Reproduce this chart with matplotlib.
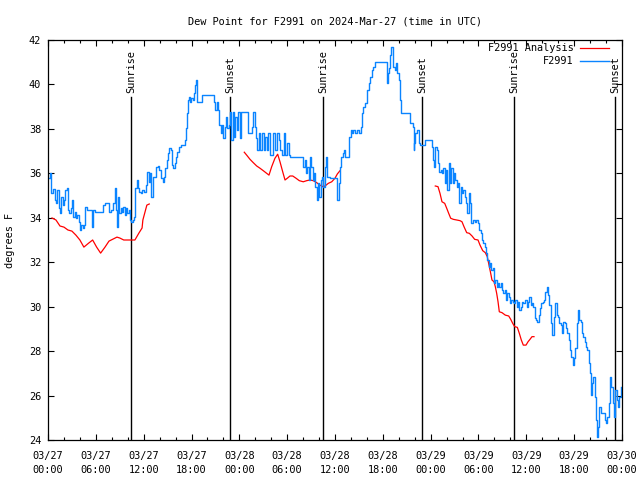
import numpy as np
import matplotlib
matplotlib.use('Agg')
import matplotlib.pyplot as plt
from matplotlib.ticker import FixedLocator, MultipleLocator

# dew point observations, hours since 03/27 00:00 UTC
obs_hours = [0.00, 0.25, 0.38, 0.63, 0.88, 1.00, 1.13, 1.38, 1.51, 1.63, 1.88, 2.01, 2.13, 2.38, 2.51, 2.63,
             2.88, 3.01, 3.14, 3.39, 3.51, 3.64, 3.89, 4.01, 4.14, 4.39, 4.52, 4.64, 4.89, 5.39, 5.52, 5.64,
             5.90, 6.65, 6.90, 7.15, 7.40, 7.65, 7.90, 8.15, 8.40, 8.53, 8.66, 8.78, 8.91, 9.16, 9.28, 9.41,
             9.66, 9.78, 9.91, 10.16, 10.29, 10.41, 10.66, 10.79, 10.91, 11.16, 11.29, 11.42, 11.67, 11.79,
             12.04, 12.29, 12.42, 12.67, 12.79, 12.92, 13.17, 13.30, 13.55, 13.80, 13.92, 14.18, 14.43, 14.55,
             14.68, 14.93, 15.00, 15.18, 15.43, 15.55, 15.68, 15.93, 16.06, 16.18, 16.43, 16.68, 16.93, 17.19,
             17.31, 17.44, 17.56, 17.69, 17.81, 17.94, 18.19, 18.32, 18.44, 18.57, 18.69, 18.75, 19.07, 19.32,
             20.70, 20.82, 20.95, 21.20, 21.32, 21.45, 21.70, 21.83, 21.95, 22.20, 22.33, 22.45, 22.71, 22.83,
             22.96, 23.21, 23.33, 23.46, 23.71, 23.83, 24.08, 24.21, 24.84, 25.09, 25.34, 25.59, 25.72, 25.97,
             26.09, 26.22, 26.47, 26.59, 26.84, 27.10, 27.22, 27.47, 27.60, 27.85, 28.10, 28.22, 28.48, 28.73,
             28.98, 29.10, 29.35, 29.61, 29.73, 29.98, 30.23, 30.36, 31.86, 31.99, 32.24, 32.36, 32.49, 32.74,
             32.87, 32.99, 33.24, 33.37, 33.49, 33.74, 33.87, 34.00, 34.25, 34.37, 34.50, 34.75, 34.87, 35.00,
             35.38, 36.13, 36.25, 36.50, 36.63, 36.75, 37.00, 37.13, 37.26, 37.63, 37.76, 38.01, 38.13, 38.26,
             38.51, 38.76, 39.01, 39.26, 39.39, 39.51, 39.77, 40.02, 40.27, 40.39, 40.64, 40.77, 41.02, 42.27,
             42.52, 42.60, 42.77, 42.90, 43.03, 43.28, 43.53, 43.65, 43.78, 44.03, 44.16, 44.28, 45.28, 45.41,
             45.79, 45.85, 45.91, 46.04, 46.29, 46.54, 46.66, 47.04, 47.29, 47.92, 48.17, 48.30, 48.42, 48.55,
             48.80, 48.92, 49.05, 49.30, 49.42, 49.55, 49.80, 49.93, 50.05, 50.30, 50.43, 50.55, 50.80, 50.93,
             51.05, 51.31, 51.43, 51.56, 51.81, 51.93, 52.06, 52.31, 52.43, 52.56, 52.81, 52.94, 53.06, 53.31,
             53.56, 53.69, 53.94, 54.07, 54.32, 54.44, 54.57, 54.82, 54.94, 55.07, 55.32, 55.45, 55.57, 55.82,
             55.95, 56.07, 56.32, 56.45, 56.57, 56.83, 56.95, 57.08, 57.33, 57.45, 57.58, 57.83, 57.95, 58.08,
             58.33, 58.46, 58.58, 58.83, 58.96, 59.08, 59.33, 59.46, 59.58, 59.84, 60.09, 60.21, 60.34, 60.59,
             60.71, 60.84, 61.09, 61.21, 61.34, 61.59, 61.72, 61.84, 62.09, 62.22, 62.34, 62.59, 62.72, 62.85,
             63.10, 63.22, 63.35, 63.47, 63.60, 63.85, 63.98, 64.10, 64.35, 64.48, 64.60, 64.85, 64.98, 65.11,
             65.36, 65.48, 65.61, 65.86, 65.98, 66.11, 66.36, 66.48, 66.61, 66.86, 66.99, 67.11, 67.36, 67.49,
             67.61, 67.86, 67.99, 68.11, 68.24, 68.37, 68.62, 68.74, 68.87, 68.99, 69.12, 69.37, 69.62, 69.87,
             70.00, 70.12, 70.37, 70.50, 70.62, 70.87, 71.00, 71.12, 71.37, 71.50, 71.62, 71.88]
obs_dewpt = [35.79, 36.02, 35.12, 35.30, 34.80, 34.67, 35.25, 34.44, 34.22, 34.94, 34.58, 34.80, 35.25, 35.34, 34.35, 34.22,
             34.44, 34.80, 34.04, 34.26, 33.99, 34.13, 33.81, 33.45, 33.68, 33.54, 33.68, 34.49, 34.35, 34.35, 33.59, 34.35,
             34.26, 34.26, 34.58, 34.67, 34.67, 34.26, 34.35, 34.67, 35.34, 34.35, 33.59, 34.94, 34.22, 34.44, 34.26, 34.49,
             34.13, 34.44, 34.22, 34.35, 33.90, 33.81, 33.90, 34.04, 35.34, 35.70, 35.34, 35.16, 35.12, 35.25,
             35.16, 35.48, 36.06, 35.61, 36.02, 34.94, 35.84, 35.84, 36.29, 36.33, 36.15, 35.79, 35.61, 35.84,
             36.24, 36.60, 36.92, 37.14, 37.05, 36.38, 36.24, 36.47, 36.74, 36.96, 37.19, 37.28, 37.28, 37.50,
             38.04, 38.72, 39.30, 39.44, 39.21, 39.39, 39.30, 39.62, 39.98, 40.20, 39.89, 39.21, 39.21, 39.53,
             39.53, 39.21, 38.85, 39.21, 38.85, 38.18, 37.82, 38.18, 37.59, 38.09, 38.54, 38.04, 38.18, 38.76,
             37.50, 38.76, 37.64, 38.54, 37.95, 38.76, 37.59, 38.76, 38.76, 37.82, 37.82, 38.09, 38.76, 38.09,
             37.59, 37.05, 37.82, 37.05, 37.82, 37.05, 37.64, 37.05, 37.82, 36.83, 36.83, 37.82, 37.05, 37.82,
             37.50, 37.05, 36.83, 37.82, 36.83, 37.37, 36.83, 36.74, 36.74, 36.29, 36.60, 36.02, 36.29, 35.70,
             36.74, 36.29, 35.70, 36.02, 35.39, 34.80, 35.57, 34.94, 35.70, 35.84, 35.39, 36.29, 36.74, 35.84,
             35.79, 35.79, 34.80, 35.57, 36.29, 36.74, 36.92, 37.05, 36.74, 36.74, 37.64, 37.95, 37.82, 37.95,
             37.82, 37.95, 37.82, 38.09, 38.72, 38.99, 39.17, 39.75, 40.07, 40.34, 40.65, 40.79, 41.01, 41.01,
             40.07, 40.52, 40.74, 41.33, 41.69, 40.79, 40.65, 40.97, 40.52, 40.20, 39.30, 38.72, 38.72, 38.27,
             38.09, 37.05, 37.37, 37.82, 37.95, 37.37, 37.28, 37.28, 37.50, 37.50, 37.19, 36.60, 36.29, 37.19,
             37.05, 36.47, 36.06, 36.15, 36.02, 36.24, 35.57, 36.15, 35.25, 36.47, 35.57, 36.24, 35.57, 36.02,
             35.70, 35.39, 35.57, 34.67, 35.39, 35.12, 35.25, 34.94, 34.67, 34.22, 35.12, 34.67, 33.77, 33.90,
             33.81, 33.90, 33.77, 33.45, 33.32, 33.00, 32.87, 32.69, 32.42, 32.10, 31.79, 31.97, 31.65, 31.74,
             31.07, 31.20, 30.89, 31.07, 30.89, 31.07, 30.75, 30.62, 30.75, 30.30, 30.62, 30.44, 30.17, 30.30,
             30.21, 30.17, 30.30, 29.99, 30.21, 29.85, 29.99, 30.21, 30.17, 30.30, 29.99, 30.21, 30.44, 30.08,
             30.17, 29.99, 29.49, 29.40, 29.31, 29.63, 29.94, 30.17, 30.21, 30.30, 30.66, 30.89, 30.53, 30.08,
             29.27, 28.73, 28.73, 29.54, 30.17, 29.63, 29.54, 29.27, 29.18, 28.82, 29.31, 29.27, 29.04, 28.82,
             28.50, 28.05, 27.74, 27.38, 27.69, 28.14, 29.27, 29.85, 29.40, 29.31, 28.82, 28.64, 28.41, 28.19,
             28.05, 27.47, 27.02, 26.03, 26.57, 26.84, 25.94, 24.90, 24.14, 24.59, 25.49, 25.22, 25.22, 24.90,
             24.77, 25.04, 25.67, 26.84, 26.39, 25.67, 25.04, 26.25, 25.80, 25.49, 25.92, 26.39]

# model analysis, three runs
ana1_hours = [0.5, 1.0, 1.5, 2.0, 2.5, 3.0, 3.5, 4.0, 4.5, 5.1, 5.6, 6.1, 6.6, 7.15, 7.65, 8.15, 8.65,
              9.0, 9.5, 10.0, 10.9, 11.4, 11.8, 11.9, 12.4, 12.7]
ana1_dewpt = [33.99, 33.9, 33.63, 33.58, 33.45, 33.4, 33.22, 33.0, 32.68, 32.86, 33.0, 32.68, 32.41, 32.68,
              32.95, 33.04, 33.13, 33.09, 33.0, 33.0, 33.0, 33.31, 33.54, 33.9, 34.57, 34.62]
ana2_hours = [24.62, 24.92, 25.34, 25.75, 26.18, 26.59, 27.0, 27.43, 27.72, 28.06, 28.47, 28.81, 29.1,
              29.44, 29.73, 30.02, 30.35, 30.7, 31.11, 31.52, 32.02, 32.45, 32.86, 33.28, 33.7, 34.12,
              34.46, 34.75, 35.16, 35.59, 36.0, 36.29, 36.63]
ana2_dewpt = [36.95, 36.82, 36.63, 36.48, 36.33, 36.23, 36.12, 36.0, 35.92, 36.3, 36.68, 36.86, 36.52,
              36.07, 35.7, 35.78, 35.88, 35.88, 35.78, 35.67, 35.62, 35.67, 35.7, 35.67, 35.58, 35.47,
              35.4, 35.43, 35.55, 35.62, 35.78, 35.97, 36.12]
ana3_hours = [48.58, 48.92, 49.17, 49.42, 49.76, 50.01, 50.26, 50.51, 50.84, 51.27, 51.68, 51.93, 52.18,
              52.52, 52.85, 53.19, 53.52, 53.94, 54.19, 54.53, 54.85, 55.1, 55.36, 55.53, 55.69, 55.95,
              56.11, 56.28, 56.45, 56.61, 56.95, 57.36, 57.79, 58.04, 58.29, 58.54, 58.87, 59.12, 59.37,
              59.62, 59.96, 60.21, 60.46, 60.71, 60.96]
ana3_dewpt = [35.43, 35.4, 35.1, 34.72, 34.65, 34.43, 34.2, 33.98, 33.93, 33.9, 33.87, 33.82, 33.6,
              33.33, 33.3, 33.18, 33.03, 33.0, 32.77, 32.52, 32.43, 32.25, 31.8, 31.5, 31.2, 31.12,
              30.9, 30.6, 30.22, 29.77, 29.73, 29.62, 29.58, 29.43, 29.25, 29.1, 29.07, 28.8, 28.5,
              28.27, 28.27, 28.42, 28.53, 28.65, 28.65]

# sunrise / sunset times (hours)
sun_hours = [10.45, 22.87, 34.54, 46.96, 58.5, 71.13]
sun_labels = ['Sunrise', 'Sunset', 'Sunrise', 'Sunset', 'Sunrise', 'Sunset']

tick_hours = [0, 6, 12, 18, 24, 30, 36, 42, 48, 54, 60, 66, 72]
tick_labels = ['03/27\n00:00', '03/27\n06:00', '03/27\n12:00', '03/27\n18:00',
               '03/28\n00:00', '03/28\n06:00', '03/28\n12:00', '03/28\n18:00',
               '03/29\n00:00', '03/29\n06:00', '03/29\n12:00', '03/29\n18:00',
               '03/30\n00:00']

plt.rcParams['font.family'] = ['DejaVu Sans Mono']
plt.rcParams['font.size'] = 7.2

fig = plt.figure(figsize=(6.4, 4.8), dpi=100)
ax = fig.add_axes([48/640, 40/480, 574/640, 400/480])

# sun lines first so the data sits on top
for h, lab in zip(sun_hours, sun_labels):
    ax.axvline(h, ymin=0, ymax=0.8575, color='black', lw=1.0)
    ax.text(h, 0.868, lab, transform=ax.get_xaxis_transform(), rotation=90,
            ha='center', va='bottom', fontsize=7.4)

ax.plot(ana1_hours, ana1_dewpt, color='red', lw=0.9, label='F2991 Analysis')
ax.plot(ana2_hours, ana2_dewpt, color='red', lw=0.9)
ax.plot(ana3_hours, ana3_dewpt, color='red', lw=0.9)
ax.plot(obs_hours, obs_dewpt, color='#0a84ff', lw=1.0, drawstyle='steps-post', label='F2991')

ax.set_xlim(0, 72)
ax.set_ylim(24, 42)
ax.xaxis.set_major_locator(FixedLocator(tick_hours))
ax.set_xticklabels(tick_labels, linespacing=1.45)
ax.xaxis.set_minor_locator(MultipleLocator(2))
ax.yaxis.set_major_locator(MultipleLocator(2))
ax.tick_params(which='both', direction='in', top=True, right=True, labelsize=7.4)
ax.tick_params(which='major', length=4.5, width=0.8)
ax.tick_params(which='minor', length=2.2, width=0.8)
ax.tick_params(axis='x', pad=8)
ax.tick_params(axis='y', pad=5)
for s in ax.spines.values():
    s.set_linewidth(0.9)

ax.set_title('Dew Point for F2991 on 2024-Mar-27 (time in UTC)', fontsize=7.4, pad=11)
ax.set_ylabel('degrees F', fontsize=7.4, labelpad=10)

ax.legend(loc='upper right', bbox_to_anchor=(1 - 9/574, 1.0025), frameon=False, markerfirst=False,
          fontsize=7.4, handlelength=2.8, borderaxespad=0.0, labelspacing=0.3, handletextpad=0.6)

fig.savefig('out.png', dpi=100)
